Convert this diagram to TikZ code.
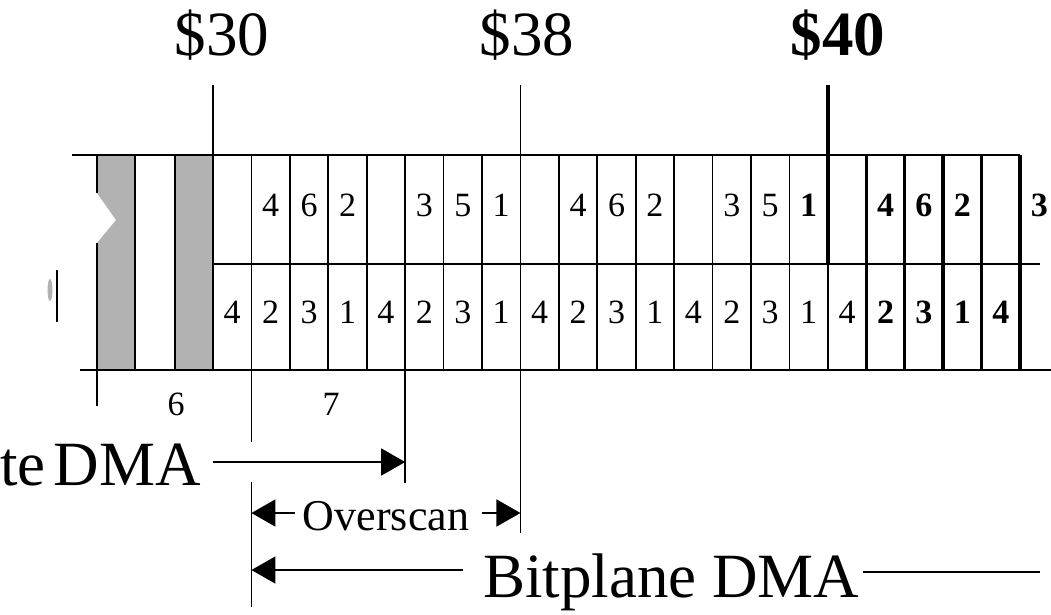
\documentclass[tikz,border=0pt]{standalone}
\usepackage{fontspec}
\setmainfont{Liberation Serif}
\usetikzlibrary{arrows.meta}
\begin{document}
\begin{tikzpicture}[x=1pt,y=-1pt,
  grid/.style={line width=1.7pt},
  boldgrid/.style={line width=3.4pt},
  cellnum/.style={font=\fontsize{34}{34}\selectfont, anchor=base, inner sep=0pt},
  cellbold/.style={cellnum, font=\fontsize{34}{34}\selectfont\bfseries},
  big/.style={font=\fontsize{63}{63}\selectfont, inner sep=0pt},
  bigbold/.style={font=\fontsize{63}{63}\selectfont\bfseries, inner sep=0pt},
  mid/.style={font=\fontsize{44}{44}\selectfont, inner sep=0pt},
  tip/.style={-{Triangle[length=24pt,width=27pt]}, line width=1.7pt},
  shade/.style={fill=gray!60}]
\useasboundingbox (0,0) rectangle (1051,614);
% shaded stripes
\fill[shade] (97,155) -- (135,155) -- (135,370) -- (97,370) -- (97,243) -- (116,220) -- (97,193) -- cycle;
\fill[shade] (175,155) rectangle (213,370);
\draw[grid] (97,155) -- (97,193);
\draw[grid] (97,243) -- (97,406);
\draw[grid] (135,155) -- (135,370);
\draw[grid] (175,155) -- (175,370);
% small mark at left
\draw[grid] (57,270) -- (57,322);
\fill[gray!60] (50,290) ellipse (2.5 and 11);
% horizontal lines
\draw[grid] (72,155) -- (1020,155);
\draw[grid] (213,264) -- (1040,264);
\draw[grid] (80,370) -- (1051,370);
% column lines
\draw[grid] (213,85) -- (213,370);
\foreach \i in {1,...,15} \draw[grid] ({213+38.43*\i},155) -- ++(0,215);
\draw[boldgrid] ({213+38.43*16},85) -- ({213+38.43*16},264);
\draw[grid] ({213+38.43*16},264) -- ({213+38.43*16},370);
\foreach \i in {17,...,21} \draw[boldgrid] ({213+38.43*\i},155) -- ++(0,215);
% extensions of lines
\draw[grid] ({213+38.43*8},85) -- ({213+38.43*8},533);
\draw[grid] ({213+38.43*1},370) -- ({213+38.43*1},442);
\draw[grid] ({213+38.43*5},370) -- ({213+38.43*5},483);
\draw[grid] ({213+38.43*1},482) -- ({213+38.43*1},607);
% top row numbers
\foreach \i/\d in {1/4,2/6,3/2,5/3,6/5,7/1,9/4,10/6,11/2,13/3,14/5}
  \node[cellnum] (t\i) at ({213+38.43*(\i+0.5)},216) {\d};
\foreach \i/\d in {15/1,17/4,18/6,19/2,21/3}
  \node[cellbold] (t\i) at ({213+38.43*(\i+0.5)},216) {\d};
% bottom row numbers
\foreach \i/\d in {0/4,1/2,2/3,3/1,4/4,5/2,6/3,7/1,8/4,9/2,10/3,11/1,12/4,13/2,14/3,15/1,16/4}
  \node[cellnum] (b\i) at ({213+38.43*(\i+0.5)},323) {\d};
\foreach \i/\d in {17/2,18/3,19/1,20/4}
  \node[cellbold] (b\i) at ({213+38.43*(\i+0.5)},323) {\d};
% labels under
\node[cellnum] (n6) at (176,415) {6};
\node[cellnum] (n7) at (331,415) {7};
% top labels
\node[big, anchor=base] (l30) at (222,55) {\$30};
\node[big, anchor=base] (l38) at (527,55) {\$38};
\node[bigbold, anchor=base] (l40) at (838,55) {\$40};
% Sprite DMA
\node[big, anchor=base east] (spr) at (201,485) {Sprite\hspace{0.13em}DMA};
\coordinate (sprend) at ({213+38.43*5},462);
\draw[tip] ([xshift=12pt]spr.east |- sprend) -- (sprend);
% Overscan
\node[mid, anchor=base] (ovs) at (386,530) {Overscan};
\coordinate (ovL) at ({213+38.43*1},513);
\coordinate (ovR) at ({213+38.43*8},513);
\draw[tip] ([xshift=-8pt]ovs.west |- ovL) -- (ovL);
\draw[tip] ([xshift=13pt]ovs.east |- ovR) -- (ovR);
% Bitplane DMA
\node[big, anchor=base west] (bpl) at (483,597) {Bitplane DMA};
\coordinate (bpL) at ({213+38.43*1},570);
\coordinate (bpR) at (1040,572);
\draw[tip] ([xshift=-20pt]bpl.west |- bpL) -- (bpL);
\draw[grid] ([xshift=3pt]bpl.east |- bpR) -- (bpR);
\end{tikzpicture}
\end{document}
